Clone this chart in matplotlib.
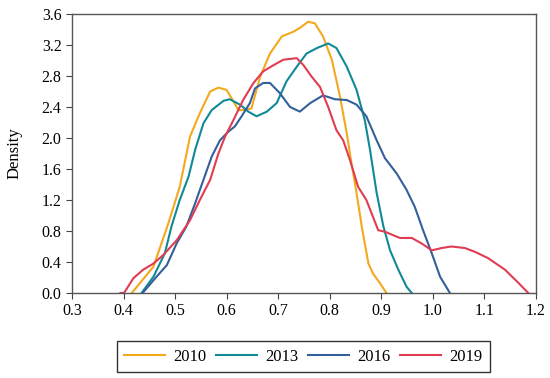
import matplotlib
matplotlib.use("Agg")
from matplotlib import pyplot as plt

# values (x, density)
x_2010 = [0.416, 0.458, 0.487, 0.509, 0.529, 0.548, 0.568, 0.584, 0.600, 0.623, 0.632, 0.648,
          0.665, 0.684, 0.707, 0.729, 0.742, 0.758, 0.771, 0.787, 0.804, 0.820, 0.833, 0.842,
          0.852, 0.862, 0.875, 0.884, 0.897, 0.910]
y_2010 = [0.0, 0.34, 0.90, 1.37, 2.02, 2.32, 2.60, 2.65, 2.62, 2.36, 2.36, 2.38,
          2.79, 3.09, 3.31, 3.37, 3.42, 3.50, 3.48, 3.31, 3.01, 2.53, 2.06, 1.68,
          1.29, 0.86, 0.38, 0.25, 0.13, 0.0]

x_2013 = [0.435, 0.458, 0.480, 0.493, 0.509, 0.526, 0.539, 0.555, 0.571, 0.594, 0.606, 0.626,
          0.642, 0.658, 0.678, 0.697, 0.716, 0.736, 0.755, 0.775, 0.797, 0.813, 0.833, 0.852,
          0.868, 0.878, 0.891, 0.904, 0.917, 0.933, 0.949, 0.959]
y_2013 = [0.0, 0.21, 0.51, 0.86, 1.20, 1.50, 1.85, 2.19, 2.36, 2.48, 2.50, 2.43,
          2.34, 2.28, 2.34, 2.45, 2.73, 2.92, 3.09, 3.16, 3.22, 3.16, 2.92, 2.62,
          2.23, 1.85, 1.29, 0.86, 0.55, 0.30, 0.08, 0.0]

x_2016 = [0.437, 0.464, 0.484, 0.503, 0.522, 0.539, 0.555, 0.571, 0.587, 0.603, 0.616, 0.629,
          0.645, 0.655, 0.671, 0.684, 0.703, 0.723, 0.742, 0.762, 0.787, 0.810, 0.833, 0.852,
          0.871, 0.891, 0.907, 0.930, 0.949, 0.965, 0.981, 0.998, 1.014, 1.033]
y_2016 = [0.0, 0.21, 0.36, 0.64, 0.86, 1.16, 1.46, 1.76, 1.97, 2.08, 2.15, 2.28,
          2.45, 2.64, 2.71, 2.71, 2.58, 2.40, 2.34, 2.45, 2.55, 2.50, 2.49, 2.43,
          2.28, 1.97, 1.74, 1.54, 1.33, 1.11, 0.81, 0.51, 0.21, 0.0]

x_2019 = [0.394, 0.401, 0.419, 0.438, 0.458, 0.477, 0.503, 0.529, 0.548, 0.568, 0.584, 0.597,
          0.613, 0.632, 0.652, 0.671, 0.691, 0.710, 0.736, 0.749, 0.765, 0.781, 0.797, 0.813,
          0.826, 0.839, 0.855, 0.871, 0.894, 0.907, 0.936, 0.959, 0.978, 0.998, 1.017, 1.036,
          1.062, 1.082, 1.107, 1.140, 1.166, 1.185]
y_2019 = [0.0, 0.0, 0.19, 0.30, 0.38, 0.49, 0.68, 0.94, 1.20, 1.46, 1.80, 2.02,
          2.23, 2.49, 2.71, 2.86, 2.94, 3.01, 3.03, 2.94, 2.79, 2.66, 2.40, 2.10,
          1.97, 1.72, 1.37, 1.20, 0.81, 0.79, 0.71, 0.71, 0.64, 0.55, 0.58, 0.60,
          0.58, 0.53, 0.45, 0.30, 0.13, 0.0]

labels = ["2010", "2013", "2016", "2019"]
colors = ['#F4A81D', '#0F8A96', '#33609A', '#E03C52']

plt.rcParams['font.family'] = ['Liberation Serif', 'DejaVu Serif']

fig = plt.figure(figsize=(5.5, 3.78), dpi=100)
ax = fig.add_axes([0.1309, 0.2249, 0.8436, 0.7381])

series = [(x_2010, y_2010), (x_2013, y_2013), (x_2016, y_2016), (x_2019, y_2019)]
for (xs, ys), lab, c in zip(series, labels, colors):
    ax.plot(xs, ys, color=c, lw=1.5, label=lab)

ax.set_xlim(0.3, 1.2)
ax.set_ylim(0.0, 3.6)
ax.set_xticks([0.3 + 0.1 * i for i in range(10)])
ax.set_xticklabels(["{:.1f}".format(0.3 + 0.1 * i) for i in range(10)])
ax.set_yticks([0.4 * i for i in range(10)])
ax.set_yticklabels(["{:.1f}".format(0.4 * i) for i in range(10)])
ax.tick_params(labelsize=11.5, length=4, width=0.8, color='#444444')
for s in ax.spines.values():
    s.set_color('#555555')
    s.set_linewidth(1.0)
ax.set_ylabel("Density", fontsize=12, labelpad=14)

fig.legend(loc='center', bbox_to_anchor=(0.551, 0.0556), ncol=4, fontsize=12,
           frameon=True, fancybox=False, edgecolor='black', handlelength=2.45,
           columnspacing=0.6, handletextpad=0.48, borderpad=0.45)

fig.savefig("out.png", dpi=100)
